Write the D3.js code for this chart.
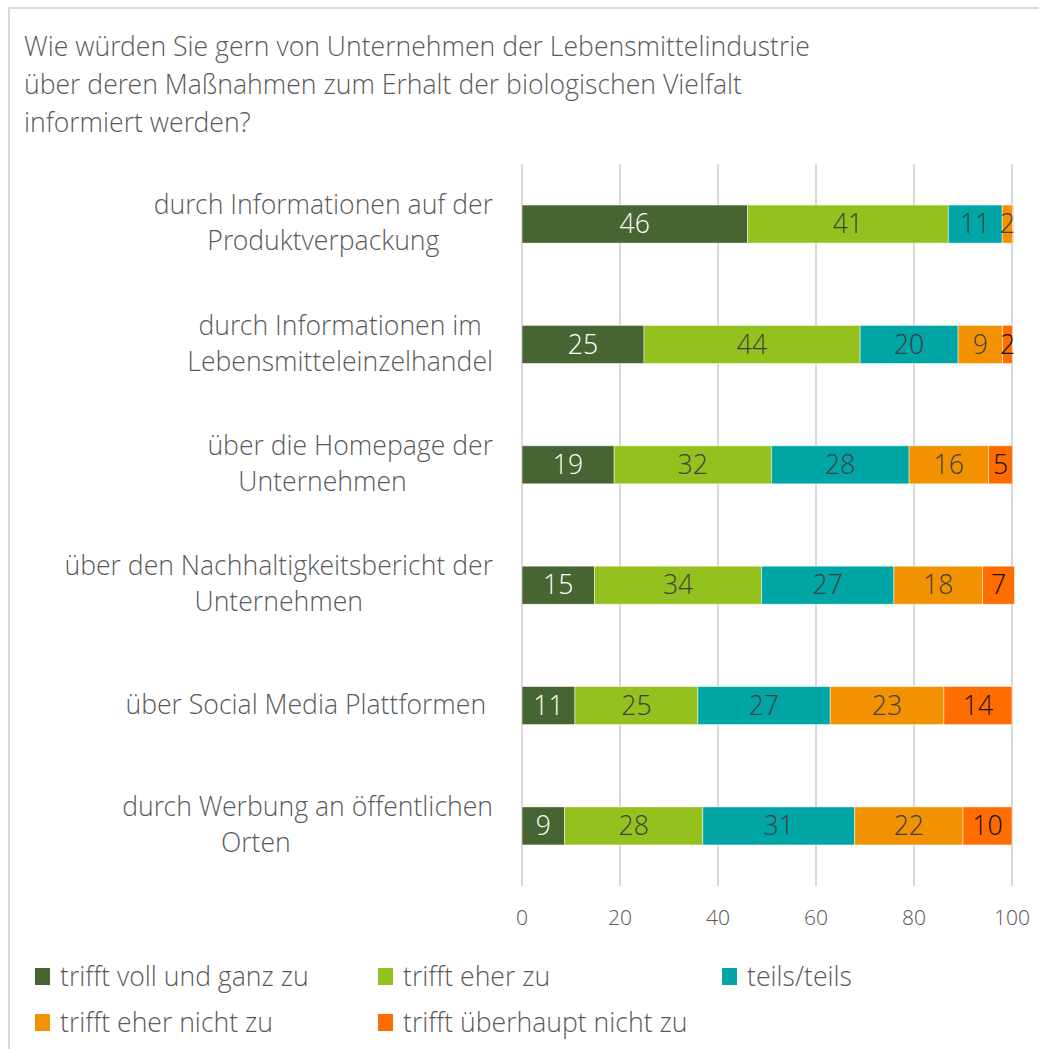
<!DOCTYPE html>
<html><head><meta charset="utf-8">
<script src="https://cdn.jsdelivr.net/npm/d3@7"></script>
<style>
html,body{margin:0;padding:0;background:#fff;}
svg{display:block;font-family:"Open Sans Light","Open Sans",sans-serif;font-weight:300;}
</style></head>
<body>
<svg id="chart" width="1039" height="1049"></svg>
<script>
const NB = "\u00a0";
const titleLines = [
  "Wie würden Sie gern von Unternehmen der Lebensmittelindustrie",
  "über deren Maßnahmen zum Erhalt der biologischen Vielfalt",
  "informiert werden?"
];
const categories = [
  ["durch Informationen auf der", "Produktverpackung"],
  ["durch Informationen im", "Lebensmitteleinzelhandel"],
  ["über die Homepage der", "Unternehmen" + NB.repeat(8)],
  ["über den Nachhaltigkeitsbericht der", "Unternehmen"],
  ["über Social Media Plattformen" + NB],
  ["durch Werbung an öffentlichen", "Orten" + NB.repeat(15)]
];
const seriesNames = ["trifft voll und ganz zu", "trifft eher zu", "teils/teils", "trifft eher nicht zu", "trifft überhaupt nicht zu"];
const seriesColors = ["#466533", "#95c11f", "#00a5a5", "#f39200", "#ff6c00"];
const labelColors = ["#ffffff", "#404040", "#404040", "#404040", "#111111"];
const vollUndGanz = [46.0, 24.9, 18.8, 14.8, 10.8, 8.7];
const eherZu      = [41.0, 44.1, 32.1, 34.1, 25.1, 28.2];
const teilsTeils  = [11.0, 20.0, 28.1, 27.0, 27.0, 31.0];
const eherNicht   = [2.1, 9.1, 16.2, 18.1, 23.2, 22.1];
const garNicht    = [0.2, 2.0, 4.9, 6.5, 13.9, 10.0];
const seriesValues = [vollUndGanz, eherZu, teilsTeils, eherNicht, garNicht];
const tickValues = [0, 20, 40, 60, 80, 100];

const svg = d3.select("#chart");
const textColor = "#595959";
const fs = 26.6;

// frame
svg.append("rect").attr("x", 9).attr("y", 8).attr("width", 1200).attr("height", 1200)
  .attr("fill", "none").attr("stroke", "#d9d9d9").attr("stroke-width", 2);

// title
svg.append("g").selectAll("text").data(titleLines).join("text")
  .attr("x", 24).attr("y", (d, i) => 47 + i * 38).attr("dy", "0.35em")
  .attr("font-size", fs).attr("fill", textColor).text(d => d);

const x = d3.scaleLinear().domain([0, 100]).range([522, 1012]);
const y = d3.scaleBand().domain(d3.range(categories.length)).range([164, 886])
  .paddingInner(0.684).paddingOuter(0.341);

// gridlines
svg.append("g").selectAll("line").data(tickValues).join("line")
  .attr("x1", d => x(d)).attr("x2", d => x(d)).attr("y1", 164).attr("y2", 886)
  .attr("stroke", "#d9d9d9").attr("stroke-width", 2);

// tick labels
svg.append("g").selectAll("text").data(tickValues).join("text")
  .attr("x", d => x(d)).attr("y", 918).attr("dy", "0.35em").attr("text-anchor", "middle")
  .attr("font-size", 21).attr("font-weight", 400).attr("fill", textColor).text(d => d);

// stacked data
const rows = categories.map((c, i) => {
  let acc = 0;
  return seriesValues.map((s, k) => {
    const v = s[i];
    const seg = {row: i, k, v, x0: acc, x1: acc + v};
    acc += v;
    return seg;
  });
}).flat();

const bars = svg.append("g");
bars.selectAll("rect").data(rows).join("rect")
  .attr("x", d => x(d.x0)).attr("width", d => x(d.x1) - x(d.x0))
  .attr("y", d => y(d.row)).attr("height", y.bandwidth())
  .attr("fill", d => seriesColors[d.k])
  .attr("stroke", "#ffffff").attr("stroke-opacity", 0.6).attr("stroke-width", 0.8);

bars.selectAll("text").data(rows.filter(d => d.v >= 1)).join("text")
  .attr("x", d => (x(d.x0) + x(d.x1)) / 2).attr("y", d => y(d.row) + y.bandwidth() / 2)
  .attr("dy", "0.35em").attr("text-anchor", "middle").attr("font-size", fs)
  .attr("fill", d => labelColors[d.k]).text(d => Math.round(d.v));

// category labels
const catG = svg.append("g");
categories.forEach((lines, i) => {
  const g = catG.append("g");
  const ts = g.selectAll("text").data(lines).join("text")
    .attr("font-size", fs).attr("fill", textColor).attr("text-anchor", "middle")
    .attr("dy", "0.35em").text(d => d);
  let w = 0;
  ts.each(function() { w = Math.max(w, this.getComputedTextLength()); });
  const cx = 493 - w / 2;
  const cy = y(i) + y.bandwidth() / 2 - 1;
  const lh = 36;
  ts.attr("x", cx).attr("y", (d, j) => cy + (j - (lines.length - 1) / 2) * lh);
});

// legend
const legendPos = [[35, 977], [378, 977], [722, 977], [35, 1023], [378, 1023]];
const lg = svg.append("g").selectAll("g").data(seriesNames).join("g")
  .attr("transform", (d, i) => `translate(${legendPos[i][0]},${legendPos[i][1]})`);
lg.append("rect").attr("x", 0).attr("y", -9).attr("width", 15).attr("height", 17)
  .attr("fill", (d, i) => seriesColors[i]);
lg.append("text").attr("x", 25).attr("y", 0).attr("dy", "0.35em")
  .attr("font-size", fs).attr("fill", textColor).text(d => d);
</script>
</body></html>
